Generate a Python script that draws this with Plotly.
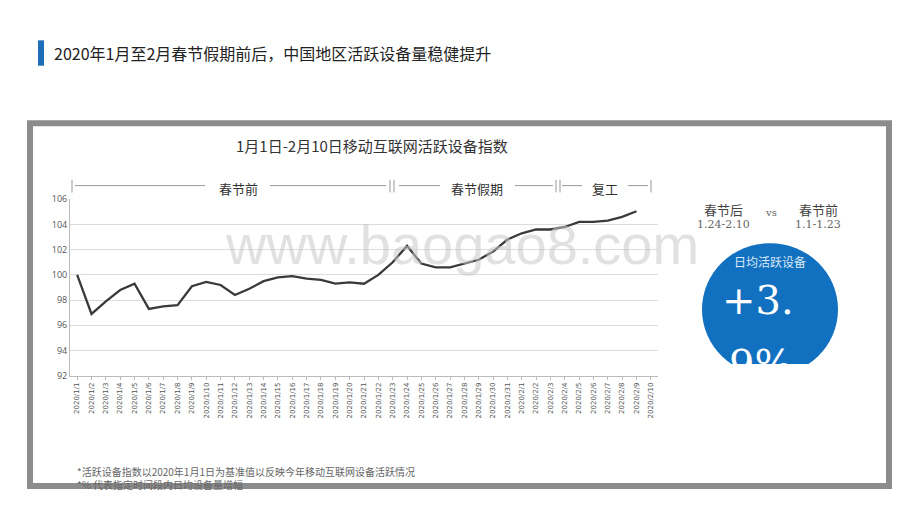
import plotly.graph_objects as go

dates = [f"2020/1/{d}" for d in range(1, 32)] + [f"2020/2/{d}" for d in range(1, 11)]
values = [100.0, 96.9, 97.9, 98.8, 99.3, 97.3, 97.5, 97.6, 99.1, 99.45, 99.2, 98.4,
          98.9, 99.5, 99.8, 99.9, 99.7, 99.6, 99.3, 99.4, 99.3, 100.0, 101.0, 102.3,
          100.9, 100.6, 100.6, 100.9, 101.2, 101.85, 102.8, 103.3, 103.6, 103.6,
          103.8, 104.2, 104.2, 104.3, 104.6, 105.05]
y_ticks = [92, 94, 96, 98, 100, 102, 104, 106]
big_lines = ["+3.", "9%"]

W, H = 920, 518
OFF = 8
def px(x): return (x - OFF) / W
def py(y): return 1 - (y - OFF) / H

fig = go.Figure(go.Scatter(x=dates[:len(values)], y=values, mode="lines",
                           line=dict(color="#3a3a3a", width=2.3), hoverinfo="skip"))
# big number text, clipped at bottom by its own axis domain
fig.add_trace(go.Scatter(x=[0.0, 0.06], y=[0.71, -0.05], mode="text", text=big_lines, textposition="middle right",
                         textfont=dict(size=40, color="white", family="DejaVu Serif"),
                         cliponaxis=True, hoverinfo="skip"))

font = "Noto Sans CJK SC"
shapes = []
ann = []
def A(x, y, text, size, color, fam=font, **kw):
    d = dict(x=px(x), y=py(y), xref="paper", yref="paper", text=text, showarrow=False,
             xanchor="center", yanchor="middle", font=dict(size=size, color=color, family=fam))
    d.update(kw)
    ann.append(d)

shapes.append(dict(type="rect", xref="paper", yref="paper", x0=px(38), x1=px(44), y0=py(60), y1=py(34),
                   fillcolor="#1f6fb8", line=dict(width=0)))
A(52, 47, "2020年1月至2月春节假期前后，中国地区活跃设备量稳健提升", 16, "#222", xanchor="left")
shapes.append(dict(type="rect", xref="paper", yref="paper", x0=px(30), x1=px(889), y0=py(491), y1=py(119),
                   fillcolor="rgba(0,0,0,0)", line=dict(color="#8c8c8c", width=6)))
A(372, 142, "1月1日-2月10日移动互联网活跃设备指数", 15, "#333")
hy = py(183)
for a, b in [(75, 205), (270, 386), (399, 440), (515, 553), (562, 582), (628, 648)]:
    shapes.append(dict(type="line", xref="paper", yref="paper", x0=px(a), x1=px(b), y0=hy, y1=hy,
                       line=dict(color="#999", width=1)))
for x in [72, 390, 394, 556, 560, 651]:
    shapes.append(dict(type="line", xref="paper", yref="paper", x0=px(x), x1=px(x), y0=py(177), y1=py(190),
                       line=dict(color="#999", width=1)))
for t, x in [("春节前", 238), ("春节假期", 477), ("复工", 605)]:
    A(x, 186, t, 13, "#333")
A(462, 243, "www.baogao8.com", 56, "rgba(200,200,200,0.55)", "Liberation Sans")
A(723, 207, "春节后", 13, "#444")
A(723, 223, "1.24-2.10", 11, "#666", "DejaVu Serif")
A(771, 211, "vs", 10, "#666", "DejaVu Serif")
A(818, 207, "春节前", 13, "#444")
A(818, 223, "1.1-1.23", 11, "#666", "DejaVu Serif")
shapes.append(dict(type="circle", xref="paper", yref="paper", x0=px(702), x1=px(838), y0=py(378), y1=py(242),
                   fillcolor="#1170c0", line=dict(width=0), layer="below"))
shapes.append(dict(type="rect", xref="paper", yref="paper", x0=px(698), x1=px(842), y0=py(381), y1=py(366),
                   fillcolor="white", line=dict(width=0), layer="below"))
A(770, 261, "日均活跃设备", 12, "#dbe8f5")
A(75, 476, "*活跃设备指数以2020年1月1日为基准值以反映今年移动互联网设备活跃情况", 10, "#666", xanchor="left")
A(75, 490, "*% 代表指定时间段内日均设备量增幅", 10, "#666", xanchor="left")

fig.update_layout(
    width=W, height=H, margin=dict(l=0, r=0, t=0, b=0),
    paper_bgcolor="white", plot_bgcolor="rgba(0,0,0,0)", showlegend=False,
    shapes=shapes, annotations=ann,
    xaxis=dict(domain=[px(70), px(658)], type="category", categoryorder="array", categoryarray=dates,
               range=[-0.5, len(dates) - 0.5], tickvals=dates, ticktext=dates, tickangle=-90,
               tickfont=dict(size=7, color="#555", family="DejaVu Sans"), showgrid=False,
               showline=True, linecolor="#bbb", ticks="outside", ticklen=3, tickcolor="#bbb"),
    yaxis=dict(domain=[py(378), py(197)], range=[92, 106], tickvals=y_ticks, showgrid=True,
               gridcolor="#dcdcdc", showline=True, linecolor="#bbb", zeroline=False,
               tickfont=dict(size=9, color="#555")),
    xaxis2=dict(domain=[px(722), px(838)], range=[0, 1], visible=False, fixedrange=True, anchor="y2"),
    yaxis2=dict(domain=[py(366), py(280)], range=[0, 1], visible=False, fixedrange=True, anchor="x2"),
)
fig.data[1].update(xaxis="x2", yaxis="y2")
fig.write_html("out.html")
